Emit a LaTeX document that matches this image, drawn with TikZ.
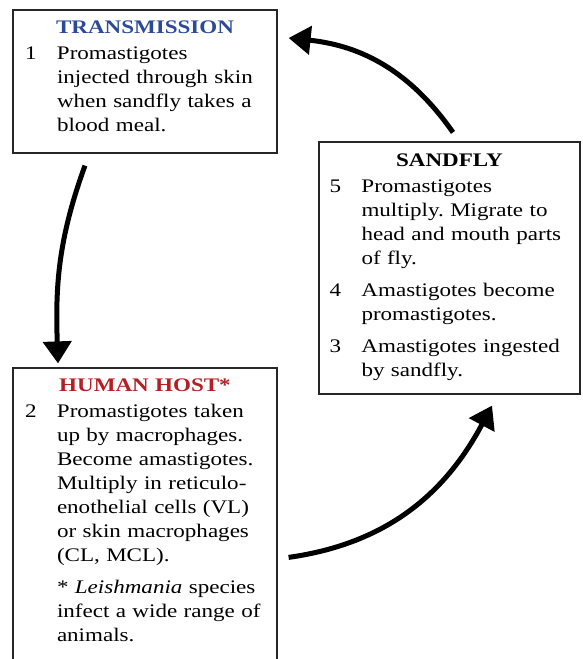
\documentclass[tikz,border=0pt]{standalone}
\usepackage{fontspec}
\setmainfont{Liberation Serif}[FakeStretch=1.2]
\usepackage{xcolor}
\usepackage{tikz}
\usetikzlibrary{arrows.meta}

\definecolor{transblue}{RGB}{44,74,152}
\definecolor{hostred}{RGB}{181,30,36}

\frenchspacing
\newcommand{\boxtitle}[2]{{\centering\bfseries\color{#1}#2\par}\vspace{2pt}}
\newcommand{\stagepar}[2]{\par{\let\\\newline\hangindent=32pt\hangafter=1\noindent\makebox[32pt][l]{#1}#2\par}}

\begin{document}
\begin{tikzpicture}[x=1pt, y=1pt,
  frame/.style={rectangle, draw=black!85, line width=1.2pt, inner sep=0pt},
  body/.style={anchor=base, text width=240pt, align=left, inner sep=0pt, font=\fontsize{19.2}{24}\selectfont},
  lifearrow/.style={-{Triangle[length=22pt,width=28pt]}, line width=5pt}
]
  \path[use as bounding box, clip] (0,0) rectangle (582,659);

  \node[frame, minimum width=264pt, minimum height=143pt] (trans) at (145,577.5) {};
  \node[frame, minimum width=261pt, minimum height=252pt] (fly) at (449.5,391) {};
  \node[frame, minimum width=264pt, minimum height=320pt] (host) at (145,131) {};

  \node[body] (transtext) at ([yshift=-24pt]trans.north)
    {\boxtitle{transblue}{TRANSMISSION}%
     \stagepar{1}{Promastigotes\\injected through skin\\when sandfly takes a\\blood meal.}};
  \node[body] (flytext) at ([yshift=-25pt]fly.north)
    {\boxtitle{black}{SANDFLY}%
     \stagepar{5}{Promastigotes\\multiply. Migrate to\\head and mouth parts\\of fly.}\vspace{8.5pt}%
     \stagepar{4}{Amastigotes become\\promastigotes.}\vspace{7.5pt}%
     \stagepar{3}{Amastigotes ingested\\by sandfly.}};
  \node[body] (hosttext) at ([yshift=-24pt]host.north)
    {\boxtitle{hostred}{HUMAN HOST*}%
     \stagepar{2}{Promastigotes taken\\up by macrophages.\\Become amastigotes.\\Multiply in reticulo-\\enothelial cells (VL)\\or skin macrophages\\(CL, MCL).}\vspace{8.5pt}%
     \stagepar{}{* \textit{Leishmania} species\\infect a wide range of\\animals.}};

  \draw[lifearrow] ([xshift=-60pt,yshift=-12pt]trans.south) to[out=-110,in=92] ([xshift=-87pt,yshift=4pt]host.north);
  \draw[lifearrow] ([xshift=11pt,yshift=-190pt]host.north east) to[out=8,in=-118] ([xshift=42.5pt,yshift=-11pt]fly.south);
  \draw[lifearrow] ([xshift=3.5pt,yshift=9pt]fly.north) to[out=125,in=-6] ([xshift=11pt,yshift=43.5pt]trans.east);
\end{tikzpicture}
\end{document}
